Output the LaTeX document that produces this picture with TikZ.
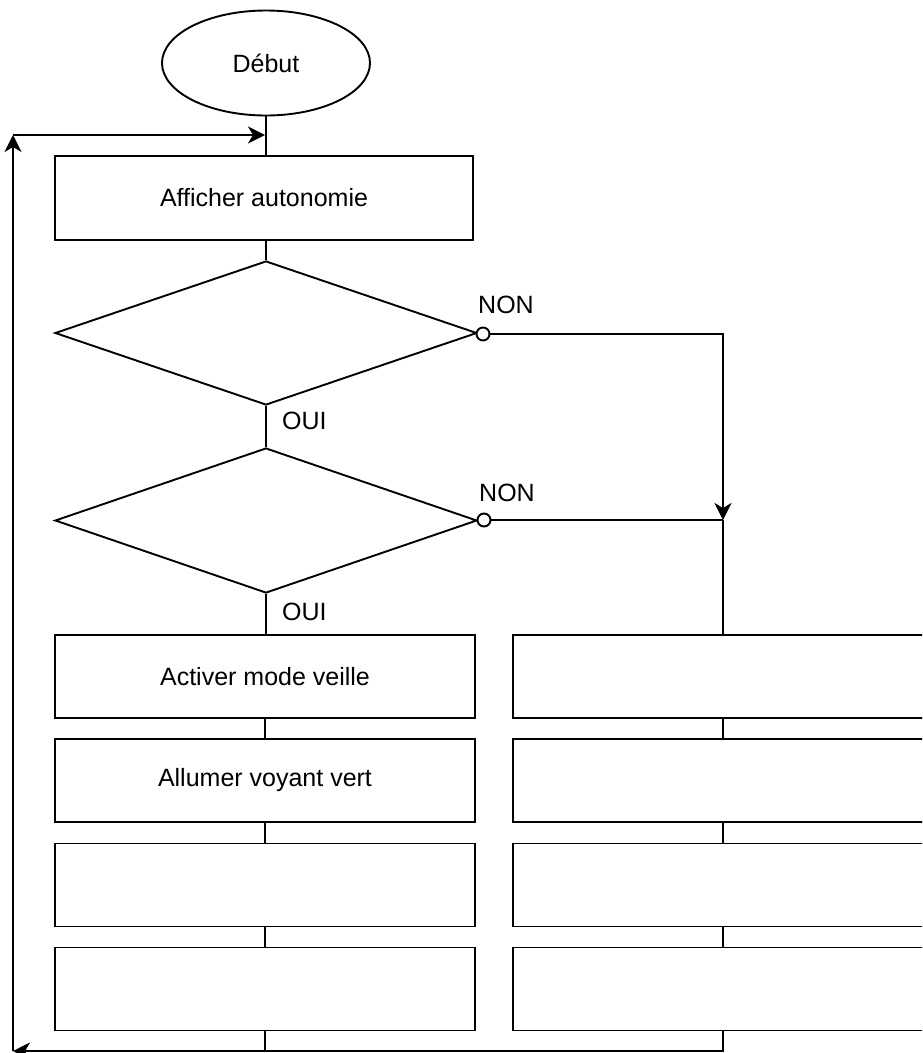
\documentclass[tikz,border=0pt]{standalone}
\usepackage{fontspec}
\setmainfont{Liberation Sans}
\usetikzlibrary{shapes.geometric,arrows.meta}
\begin{document}
\begin{tikzpicture}[x=1pt,y=-1pt,
  every node/.style={font=\fontsize{25}{29}\selectfont},
  ln/.style={line width=1.9pt,black},
  box/.style={ln,draw,rectangle,minimum width=420pt,minimum height=83pt,inner sep=0pt},
  dia/.style={ln,draw,diamond,minimum width=422pt,minimum height=144pt,inner sep=0pt},
  term/.style={ln,draw,ellipse,minimum width=208pt,minimum height=105pt,inner sep=0pt},
  port/.style={ln,draw,circle,fill=white,minimum size=13pt,inner sep=0pt},
  lbl/.style={inner sep=0pt},
  arr/.style={ln,-{Stealth[length=17pt,width=17pt,inset=5pt]}}
]
\useasboundingbox (0,0) rectangle (922,1053);
\clip (0,0) rectangle (922,1053);
% nodes
\node[term] (start) at (266,63) {Début};
\node[box,minimum width=418pt,minimum height=84pt] (b1) at (264,198) {Afficher autonomie};
\node[dia] (d1) at (266,333) {};
\node[dia,minimum height=145pt] (d2) at (266,520.5) {};
\node[port] (c1) at (483,334) {};
\node[port] (c2) at (484,520) {};
\node[box] (a1) at (265,676.5) {Activer mode veille};
\node[box] (a2) at (265,780.5) {Allumer voyant vert};
\node[box] (a3) at (265,885) {};
\node[box] (a4) at (265,989) {};
\node[box] (r1) at (723,676.5) {};
\node[box] (r2) at (723,780.5) {};
\node[box] (r3) at (723,885) {};
\node[box] (r4) at (723,989) {};
% labels
\node[lbl] (non1) at (506,305) {NON};
\node[lbl] (non2) at (507,493) {NON};
\node[lbl,anchor=west] (oui1) at (282,421) {OUI};
\node[lbl,anchor=west] (oui2) at (282,612) {OUI};
% coordinates
\coordinate (j) at (723,520);
\coordinate (bl) at (13,1051);
\coordinate (tl) at (13,135);
\coordinate (entry) at (265,135);
% connectors
\draw[ln] (start.south) -- (b1.north -| start.south);
\draw[ln] (b1.south -| d1.north) -- (d1.north);
\draw[ln] (d1.south) -- (d2.north);
\draw[ln] (d2.south) -- (a1.north -| d2.south);
\draw[arr] (c1.east) -| (j);
\draw[ln] (c2.east) -- (j);
\draw[ln] (j) -- (r1.north);
\draw[ln] (a1.south) -- (a2.north);
\draw[ln] (a2.south) -- (a3.north);
\draw[ln] (a3.south) -- (a4.north);
\draw[ln] (r1.south) -- (r2.north);
\draw[ln] (r2.south) -- (r3.north);
\draw[ln] (r3.south) -- (r4.north);
\draw[ln] (a4.south) -- (a4.south |- bl);
\draw[arr] (r4.south) |- (bl);
\draw[arr] (bl) -- (tl);
\draw[arr] (tl) -- (entry);
\end{tikzpicture}
\end{document}
